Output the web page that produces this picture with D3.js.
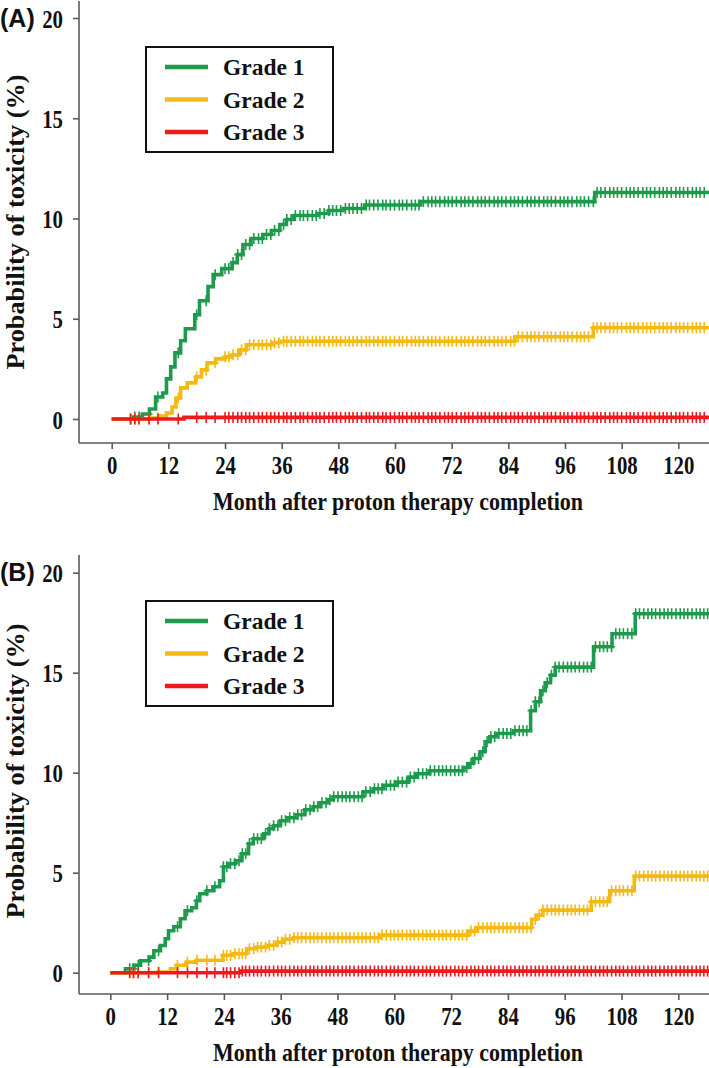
<!DOCTYPE html>
<html>
<head>
<meta charset="utf-8">
<script src="https://cdn.jsdelivr.net/npm/d3@7/dist/d3.min.js"></script>
<style>
  html, body { margin: 0; padding: 0; background: #fff; }
  svg { display: block; }
</style>
</head>
<body>
<svg id="chart" width="709" height="1068"></svg>
<script>
// ---------------- DATA ----------------
const seriesNames = ["Grade 1", "Grade 2", "Grade 3"];
const seriesColors = ["#1d9a4b", "#f5b914", "#ee1b1b"];
const xTicks = [0, 12, 24, 36, 48, 60, 72, 84, 96, 108, 120];
const yTicks = [0, 5, 10, 15, 20];
const panelLabels = ["(A)", "(B)"];
const xTitle = "Month after proton therapy completion";
const yTitle = "Probability of toxicity (%)";

// Panel A step functions: [month, cumulative %]
const aGrade1 = [[0,0],[4.6,0.1],[6.5,0.25],[8.0,0.5],[9.3,1.1],[10.8,1.3],[11.6,2.0],[12.5,2.6],[13.4,3.3],[14.6,3.9],[15.6,4.5],[17.6,5.2],[18.6,5.9],[20.4,6.6],[21.5,7.2],[23.3,7.5],[25.5,7.8],[26.6,8.2],[27.8,8.7],[29.5,9.0],[32.0,9.2],[33.8,9.4],[35.6,9.7],[37.0,9.95],[38.6,10.15],[43.5,10.25],[46.0,10.4],[49.0,10.5],[53.6,10.67],[65.3,10.84],[102.3,11.3]];
const aGrade2 = [[0,0],[8.5,0.05],[10.0,0.15],[11.6,0.3],[12.8,0.6],[13.6,1.05],[14.6,1.55],[16.0,1.8],[17.8,2.1],[19.0,2.45],[20.2,2.8],[22.0,3.0],[24.0,3.1],[25.5,3.2],[27.0,3.45],[28.5,3.7],[34.0,3.8],[35.6,3.88],[85.4,4.1],[102.0,4.55]];
const aGrade3 = [[0,0],[15.3,0.08]];
const aEnd = 126.5;
const aCensor = [4.0,4.9,5.8,7.9,9.8,14.1,18.0,20.0,21.9,24.0,24.8,25.7,26.7,27.5,28.4,29.2,30.1,31.1,31.9,32.8,33.7,34.5,35.4,36.4,37.1,38.0,38.9,39.9,40.6,41.5,42.5,43.3,44.1,45.0,46.0,46.8,47.6,48.5,49.5,50.3,51.1,52.0,52.9,53.9,54.6,55.5,56.4,57.4,58.1,59.0,59.9,60.9,61.6,62.5,63.5,64.3,65.1,66.0,67.0,67.8,68.6,69.5,70.5,71.3,72.1,73.0,74.0,74.8,75.6,76.5,77.5,78.3,79.1,80.0,81.0,81.8,82.6,83.5,84.5,85.3,86.1,87.0,88.0,88.8,89.6,90.5,91.5,92.3,93.1,94.0,95.0,95.8,96.6,97.5,98.5,99.3,100.1,101.0,102.0,102.8,103.6,104.5,105.5,106.3,107.1,108.0,109.0,109.8,110.6,111.5,112.5,113.3,114.1,115.0,116.0,116.8,117.6,118.5,119.5,120.3,121.1,122.0,123.0,123.8,124.6,125.5];

// Panel B step functions
const bGrade1 = [[0,0],[3.2,0.2],[5.0,0.37],[6.4,0.6],[8.2,0.78],[9.2,1.1],[10.6,1.36],[11.6,1.7],[12.3,2.1],[13.4,2.3],[14.8,2.7],[15.8,3.1],[17.2,3.25],[18.2,3.6],[18.9,3.95],[20.4,4.1],[21.7,4.3],[23.1,4.6],[23.9,5.3],[24.9,5.45],[26.4,5.6],[27.8,5.95],[29.2,6.45],[30.2,6.7],[32.4,6.95],[33.5,7.2],[34.5,7.35],[35.9,7.6],[37.3,7.75],[39.4,7.9],[41.1,8.15],[42.9,8.3],[44.3,8.5],[46.0,8.65],[47.1,8.8],[53.4,9.05],[55.6,9.2],[57.7,9.37],[60.5,9.53],[63.0,9.78],[64.7,9.95],[67.5,10.1],[74.6,10.26],[75.7,10.46],[76.7,10.71],[78.1,11.05],[79.2,11.55],[80.2,11.8],[81.6,11.96],[85.2,12.1],[88.8,13.1],[89.8,13.55],[90.9,14.1],[91.9,14.5],[93.0,14.88],[94.0,15.28],[102.1,16.3],[106.0,16.95],[110.9,17.95]];
const bGrade2 = [[0,0],[9.9,0.03],[12.7,0.2],[14.0,0.37],[16.1,0.53],[18.2,0.62],[23.8,0.87],[26.0,0.95],[28.8,1.2],[30.9,1.28],[33.0,1.37],[35.2,1.53],[36.6,1.67],[38.7,1.75],[57.0,1.88],[75.6,2.08],[77.4,2.25],[89.0,2.67],[90.0,2.88],[91.4,3.13],[101.6,3.55],[105.5,4.1],[110.7,4.83]];
const bGrade3 = [[0,0],[27.5,0.08]];
const bEnd = 126.5;
const bCensor = [4.1,4.9,5.9,8.1,10.2,14.2,16.3,18.3,20.4,22.1,23.9,24.6,25.4,26.3,27.2,27.9,28.6,29.4,30.3,31.1,31.9,32.8,33.6,34.5,35.4,36.2,37.0,37.9,38.8,39.6,40.4,41.3,42.2,43.0,43.8,44.7,45.6,46.4,47.2,48.1,49.0,49.8,50.6,51.5,52.4,53.2,54.0,54.9,55.8,56.6,57.4,58.3,59.2,60.0,60.8,61.7,62.6,63.4,64.2,65.1,66.0,66.8,67.6,68.5,69.4,70.2,71.0,71.9,72.8,73.6,74.4,75.3,76.2,77.0,77.8,78.7,79.6,80.4,81.2,82.1,83.0,83.8,84.6,85.5,86.4,87.2,88.0,88.9,89.8,90.6,91.4,92.3,93.2,94.0,94.8,95.7,96.6,97.4,98.2,99.1,100.0,100.8,101.6,102.5,103.4,104.2,105.0,105.9,106.8,107.6,108.4,109.3,110.2,111.0,111.8,112.7,113.6,114.4,115.2,116.1,117.0,117.8,118.6,119.5,120.4,121.2,122.0,122.9,123.8,124.6,125.4,126.2];

// ---------------- DRAW ----------------
const svg = d3.select("#chart");
const axisColor = "#5a5a5a";
const serif = "'Liberation Serif', 'Times New Roman', serif";

function stepValue(steps, t) {
  let v = 0;
  for (const s of steps) { if (s[0] <= t) v = s[1]; else break; }
  return v;
}

function drawPanel(p) {
  const g = svg.append("g");
  const x = d3.scaleLinear().domain([0, 120]).range([p.x0, p.x120]);
  const y = d3.scaleLinear().domain([0, 20]).range([p.y0, p.y20]);

  // axis lines
  g.append("line").attr("x1", p.axisX).attr("x2", p.axisX)
    .attr("y1", p.axisTop).attr("y2", p.axisY)
    .attr("stroke", axisColor).attr("stroke-width", 1.6);
  g.append("line").attr("x1", p.axisX).attr("x2", 709)
    .attr("y1", p.axisY).attr("y2", p.axisY)
    .attr("stroke", axisColor).attr("stroke-width", 1.6);

  // y axis
  const ya = g.append("g").attr("transform", `translate(${p.axisX},0)`)
    .call(d3.axisLeft(y).tickValues(yTicks).tickSize(6).tickPadding(0).tickFormat(d3.format("d")));
  ya.select(".domain").remove();
  ya.selectAll(".tick line").attr("stroke", axisColor).attr("stroke-width", 1.6);
  ya.selectAll(".tick text")
    .attr("x", 0).attr("dy", null).attr("y", 9)
    .attr("transform", "translate(-16,0) scale(0.8,1)")
    .attr("text-anchor", "end")
    .style("font-family", serif).style("font-weight", "bold").style("font-size", "26px").attr("fill", "#111");

  // x axis
  const xa = g.append("g").attr("transform", `translate(0,${p.axisY})`)
    .call(d3.axisBottom(x).tickValues(xTicks).tickSize(6).tickFormat(d3.format("d")));
  xa.select(".domain").remove();
  xa.selectAll(".tick line").attr("stroke", axisColor).attr("stroke-width", 1.6);
  xa.selectAll(".tick text")
    .attr("y", 0).attr("dy", null)
    .attr("transform", "translate(0,31) scale(0.8,1)")
    .style("font-family", serif).style("font-weight", "bold").style("font-size", "26px").attr("fill", "#111");

  // titles
  g.append("text").attr("x", 398).attr("y", p.axisY + 67)
    .attr("text-anchor", "middle")
    .attr("textLength", 370).attr("lengthAdjust", "spacingAndGlyphs")
    .style("font-family", serif).style("font-weight", "bold").style("font-size", "26px")
    .attr("fill", "#111").text(xTitle);
  g.append("text").attr("transform", `translate(24,${p.yTitleC}) rotate(-90)`)
    .attr("text-anchor", "middle")
    .attr("textLength", 295).attr("lengthAdjust", "spacingAndGlyphs")
    .style("font-family", serif).style("font-weight", "bold").style("font-size", "26px")
    .attr("fill", "#111").text(yTitle);
  g.append("text").attr("x", 0).attr("y", p.labelY)
    .style("font-family", "'Liberation Sans', Arial, sans-serif").style("font-weight", "bold").style("font-size", "25px")
    .attr("fill", "#111").text(p.label);

  // curves
  const line = d3.line().x(d => x(d[0])).y(d => y(d[1])).curve(d3.curveStepAfter);
  p.series.forEach((steps, i) => {
    const pts = steps.concat([[p.end, steps[steps.length - 1][1]]]);
    g.append("path").datum(pts).attr("d", line)
      .attr("fill", "none").attr("stroke", seriesColors[i]).attr("stroke-width", 3.6)
      .attr("stroke-linejoin", "miter");
    // censor marks
    const cg = g.append("g").attr("stroke", seriesColors[i]).attr("stroke-width", 1.6);
    p.censor.forEach(t => {
      const cx = x(t), cy = y(stepValue(steps, t));
      cg.append("line").attr("x1", cx).attr("x2", cx).attr("y1", cy - 5.5).attr("y2", cy + 5.5);
      cg.append("line").attr("x1", cx - 3.5).attr("x2", cx + 3.5).attr("y1", cy).attr("y2", cy);
    });
  });

  // legend
  const lg = g.append("g");
  lg.append("rect").attr("x", p.legX).attr("y", p.legY).attr("width", 187).attr("height", 105)
    .attr("fill", "#fff").attr("stroke", "#111").attr("stroke-width", 2);
  seriesNames.forEach((name, i) => {
    const ly = p.legY + 20 + i * 32.5;
    lg.append("line").attr("x1", p.legX + 19).attr("x2", p.legX + 62)
      .attr("y1", ly).attr("y2", ly)
      .attr("stroke", seriesColors[i]).attr("stroke-width", 4.5);
    lg.append("text").attr("x", p.legX + 77).attr("y", ly + 8)
      .style("font-family", serif).style("font-weight", "bold").style("font-size", "23.5px")
      .attr("fill", "#111").text(name);
  });
}

drawPanel({
  label: panelLabels[0], labelY: 27,
  x0: 111.7, x120: 678.3, y0: 419, y20: 18,
  axisX: 79, axisY: 443, axisTop: 1, yTitleC: 222,
  series: [aGrade1, aGrade2, aGrade3], censor: aCensor, end: aEnd,
  legX: 146, legY: 47
});
drawPanel({
  label: panelLabels[1], labelY: 581,
  x0: 110.3, x120: 678.3, y0: 972.7, y20: 572.7,
  axisX: 79, axisY: 994, axisTop: 555, yTitleC: 771,
  series: [bGrade1, bGrade2, bGrade3], censor: bCensor, end: bEnd,
  legX: 146, legY: 601
});
</script>
</body>
</html>
